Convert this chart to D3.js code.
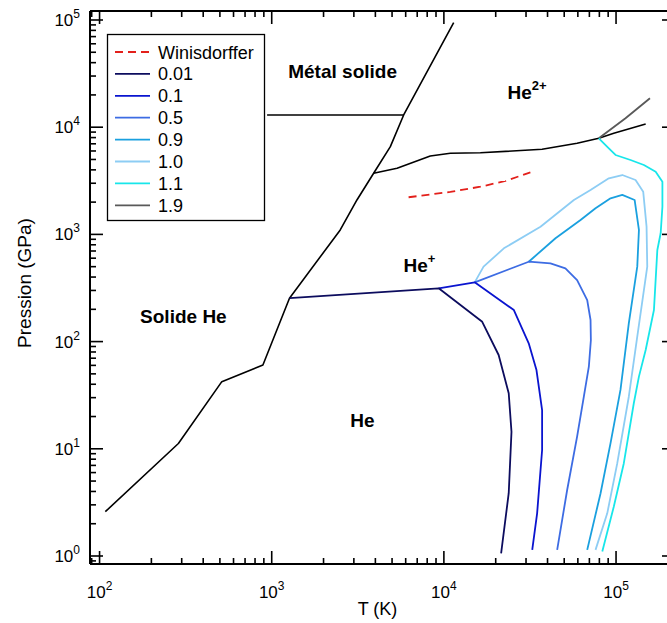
<!DOCTYPE html>
<html>
<head>
<meta charset="utf-8">
<script src="https://cdn.jsdelivr.net/npm/d3@7"></script>
<style>
  html, body { margin: 0; padding: 0; background: #fff; }
  svg { display: block; font-family: Arial, "Liberation Sans", sans-serif; }
</style>
</head>
<body>
<svg id="chart" width="667" height="623"></svg>
<script>
// ---------- DATA (T in K, P in GPa) ----------
const meltT = [108, 287, 513, 889, 1268, 2500, 3126, 3908, 4887, 5840, 11400];
const meltP = [2.59, 11.2, 42.3, 60.5, 254, 1100, 2094, 3715, 6580, 13000, 94400];

const metalT = [940, 5840];
const metalP = [13000, 13000];

const ionT = [3908, 5346, 8335, 10900, 16300, 37200, 59400, 79400, 97000, 148600];
const ionP = [3715, 4137, 5385, 5710, 5780, 6220, 7080, 7875, 8770, 10700];

const winT = [6237, 10900, 16300, 22800, 31800];
const winP = [2220, 2490, 2785, 3150, 3795];

const c001T = [1268, 9330, 16700, 20800, 23800, 24700, 23800, 21500];
const c001P = [254, 314, 153, 75, 33, 14.4, 3.85, 1.06];

const c01T = [9330, 15100, 25500, 31100, 34500, 37200, 37200, 34800, 32600];
const c01P = [314, 357, 197, 96.4, 54.3, 23, 9.75, 2.5, 1.14];

const c05T = [15100, 31100, 41600, 50800, 59400, 68000, 71100, 71400, 69500, 65000, 59400, 52000, 45500];
const c05P = [357, 556, 537, 483, 375, 244, 159, 103, 58.3, 30.6, 13, 4.13, 1.14];

const c09T = [31100, 44500, 62200, 76000, 92900, 108700, 128200, 135800, 132800, 118600, 106100, 92900, 81300, 68000];
const c09P = [556, 920, 1362, 1751, 2172, 2333, 2094, 1099, 500, 148, 35.4, 11.3, 3.85, 1.14];

const c10T = [15100, 17000, 22300, 36400, 56900, 71100, 90800, 108700, 129800, 143800, 150400, 151800, 132800, 118600, 101600, 88900, 76000];
const c10P = [357, 500, 741, 1180, 2094, 2594, 3337, 3580, 3216, 2502, 1180, 500, 111, 30.6, 7.3, 2.5, 1.14];

const c11T = [79400, 90800, 99300, 121400, 145100, 169900, 185900, 185900, 181600, 173700, 166000, 148600, 135800, 126800, 110900, 97000, 83200];
const c11P = [7875, 6357, 5505, 4943, 4438, 3845, 3103, 1813, 1024, 715, 197, 83.5, 47.1, 26.6, 7.3, 2.88, 1.1];

const c19T = [79400, 113500, 157400];
const c19P = [7875, 12100, 18600];

const legendLabels = ["Winisdorffer", "0.01", "0.1", "0.5", "0.9", "1.0", "1.1", "1.9"];
const legendColors = ["#e3201b", "#0c0c5e", "#0a14cf", "#3d6ce3", "#1aa0df", "#8dcdf4", "#18e6ea", "#595959"];

const xTickExps = [2, 3, 4, 5];
const yTickExps = [0, 1, 2, 3, 4, 5];

const regionLabels = [
  {text: "Métal solide", sup: "", T: 1247, P: 28800},
  {text: "He", sup: "2+", T: 23400, P: 18300},
  {text: "He", sup: "+", T: 5820, P: 446},
  {text: "Solide He", sup: "", T: 172, P: 149},
  {text: "He", sup: "", T: 2860, P: 16}
];

// ---------- LAYOUT ----------
const L = 90, R = 675, T0 = 11, B = 564;
const svg = d3.select("#chart");
const x = d3.scaleLog().domain([88, 2.2e5]).range([L, R]);
const y = d3.scaleLog().domain([0.842, 1.213e5]).range([B, T0]);

svg.append("clipPath").attr("id", "clip")
  .append("rect").attr("x", L).attr("y", T0).attr("width", R - L).attr("height", B - T0);

const plot = svg.append("g").attr("clip-path", "url(#clip)");
const line = d3.line().x(d => x(d[0])).y(d => y(d[1]));
const zip = (a, b) => a.map((v, i) => [v, b[i]]);

function draw(Ts, Ps, color, w, dash) {
  plot.append("path").datum(zip(Ts, Ps))
    .attr("d", line).attr("fill", "none")
    .attr("stroke", color).attr("stroke-width", w)
    .attr("stroke-linejoin", "round")
    .attr("stroke-dasharray", dash || null);
}

draw(meltT, meltP, "#000", 1.6);
draw(metalT, metalP, "#000", 1.6);
draw(ionT, ionP, "#000", 1.6);
draw(c19T, c19P, legendColors[7], 1.8);
draw(c11T, c11P, legendColors[6], 1.8);
draw(c10T, c10P, legendColors[5], 1.8);
draw(c09T, c09P, legendColors[4], 1.8);
draw(c05T, c05P, legendColors[3], 1.8);
draw(c01T, c01P, legendColors[2], 1.8);
draw(c001T, c001P, legendColors[1], 1.8);
draw(winT, winP, legendColors[0], 1.8, "8,5");

// ---------- AXES ----------
const ax = svg.append("g");
[[L, R, B, B], [L, R, T0, T0], [L, L, T0, B], [R, R, T0, B]].forEach(c => {
  ax.append("line").attr("x1", c[0]).attr("x2", c[1]).attr("y1", c[2]).attr("y2", c[3])
    .attr("stroke", "#000").attr("stroke-width", 2);
});

const isMajor = v => Math.abs(Math.log10(v) - Math.round(Math.log10(v))) < 1e-9;
const xTicks = x.ticks().filter(v => v >= x.domain()[0] && v <= x.domain()[1]);
xTicks.forEach(v => {
  const len = isMajor(v) ? 13 : 6;
  const px = x(v);
  ax.append("line").attr("x1", px).attr("x2", px).attr("y1", B).attr("y2", B - len).attr("stroke", "#000").attr("stroke-width", 1.6);
  ax.append("line").attr("x1", px).attr("x2", px).attr("y1", T0).attr("y2", T0 + len).attr("stroke", "#000").attr("stroke-width", 1.6);
});
const yTicks = y.ticks().filter(v => v >= y.domain()[0] && v <= y.domain()[1]);
yTicks.forEach(v => {
  const major = isMajor(v);
  const len = major ? 13 : 6;
  const py = y(v);
  ax.append("line").attr("x1", L).attr("x2", L + len).attr("y1", py).attr("y2", py).attr("stroke", "#000").attr("stroke-width", 1.6);
  if (major) ax.append("line").attr("x1", R).attr("x2", R - len).attr("y1", py).attr("y2", py).attr("stroke", "#000").attr("stroke-width", 1.6);
});

xTickExps.forEach(e => {
  const t = ax.append("text").attr("x", x(Math.pow(10, e))).attr("y", 598)
    .attr("text-anchor", "middle").attr("font-size", 17);
  t.append("tspan").text("10");
  t.append("tspan").attr("dy", -8).attr("font-size", 12).text(e);
});
yTickExps.forEach(e => {
  const t = ax.append("text").attr("x", 80).attr("y", y(Math.pow(10, e)) + 6)
    .attr("text-anchor", "end").attr("font-size", 17);
  t.append("tspan").text("10");
  t.append("tspan").attr("dy", -8).attr("font-size", 12).text(e);
});

svg.append("text").attr("x", (L + 665) / 2).attr("y", 615).attr("text-anchor", "middle")
  .attr("font-size", 18).text("T (K)");
svg.append("text").attr("transform", "translate(31,283) rotate(-90)")
  .attr("text-anchor", "middle").attr("font-size", 19).text("Pression (GPa)");

// ---------- REGION LABELS ----------
regionLabels.forEach(d => {
  const t = svg.append("text").attr("x", x(d.T)).attr("y", y(d.P))
    .attr("font-size", 19).attr("font-weight", "bold");
  t.append("tspan").text(d.text);
  if (d.sup) t.append("tspan").attr("dy", -9).attr("font-size", 13).text(d.sup);
});

// ---------- LEGEND ----------
const lg = svg.append("g");
lg.append("rect").attr("x", 107.5).attr("y", 34.5).attr("width", 157).attr("height", 186)
  .attr("fill", "#fff").attr("stroke", "#000").attr("stroke-width", 1.3);
legendLabels.forEach((lab, i) => {
  const cy = 52 + i * 21.9;
  lg.append("line").attr("x1", 115).attr("x2", 150).attr("y1", cy).attr("y2", cy)
    .attr("stroke", legendColors[i]).attr("stroke-width", 1.8)
    .attr("stroke-dasharray", i === 0 ? "8,5" : null);
  lg.append("text").attr("x", 158).attr("y", cy + 6.5).attr("font-size", 18).text(lab);
});
</script>
</body>
</html>
